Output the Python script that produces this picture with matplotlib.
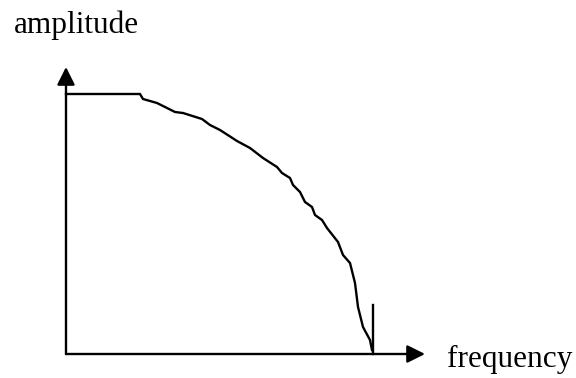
import matplotlib
matplotlib.use("Agg")
import matplotlib.pyplot as plt

# curve (frequency, amplitude in arbitrary units)
freq = [0, 74, 77, 91, 109, 117, 136, 144, 154, 171, 184, 197, 211, 216,
        224, 227, 234, 239, 246, 249, 256, 261, 272, 277, 284, 289, 292,
        297, 304, 306]
amp = [260, 260, 255, 251, 242, 241, 235, 229, 224, 213, 206, 196, 187, 181,
       176, 169, 162, 152, 147, 139, 134, 126, 112, 99, 91, 71, 47,
       27, 14, 4]
spike_f = 307
spike_top = 49
x_end = 359
y_end = 287

fig = plt.figure(figsize=(5.76, 3.78), dpi=100)
ax = fig.add_axes([0, 0, 1, 1])
ax.set_xlim(-66, 510)
ax.set_ylim(-24, 354)
ax.axis('off')

lw = 1.7
ax.plot(freq, amp, color='black', lw=lw, solid_joinstyle='round')
ax.plot([spike_f, spike_f], [0, spike_top], color='black', lw=lw)

arrow = dict(arrowstyle='-|>,head_length=0.6,head_width=0.3', color='black',
             lw=lw, shrinkA=0, shrinkB=0, mutation_scale=18)
ax.annotate('', xy=(x_end, 0), xytext=(0, 0), arrowprops=arrow)
ax.annotate('', xy=(0, y_end), xytext=(0, 0), arrowprops=arrow)

font = dict(family='Liberation Serif', size=22.5, color='black')
ax.text(-52, 321, 'amplitude', va='baseline', ha='left', **font)
ax.text(381, -13, 'frequency', va='baseline', ha='left', **font)

fig.savefig('out.png', dpi=100)
